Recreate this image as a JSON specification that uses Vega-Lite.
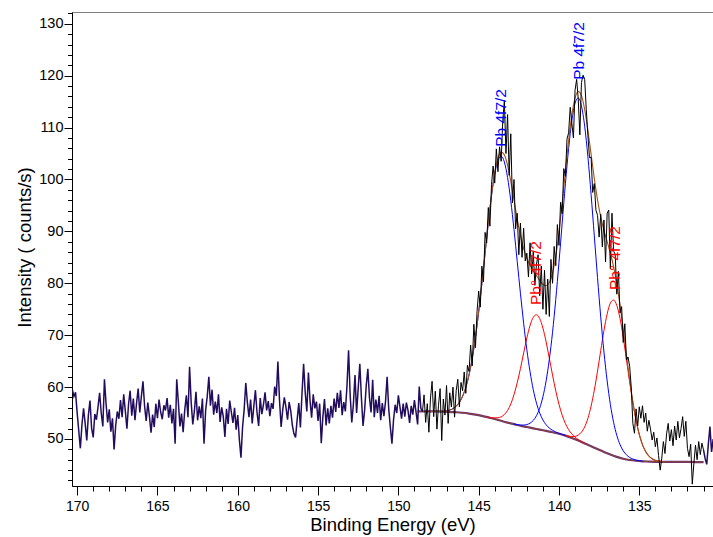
{
"$schema":"https://vega.github.io/schema/vega-lite/v6.json",
"width":641,"height":474,
"autosize":{"type":"none"},
"padding":{"left":72,"top":12,"right":0,"bottom":51},
"background":"white",
"config":{"view":{"stroke":"#808080","strokeWidth":1},"font":"Liberation Sans"},
"datasets":{
"fit":[
{"e":148.8,"v":55.3,"s":"bg"},{"e":148.4,"v":55.3,"s":"bg"},{"e":148.0,"v":55.3,"s":"bg"},{"e":147.6,"v":55.3,"s":"bg"},{"e":147.2,"v":55.25,"s":"bg"},{"e":146.8,"v":55.2,"s":"bg"},{"e":146.4,"v":55.15,"s":"bg"},{"e":146.0,"v":55.05,"s":"bg"},{"e":145.6,"v":54.9,"s":"bg"},{"e":145.2,"v":54.7,"s":"bg"},{"e":144.8,"v":54.45,"s":"bg"},{"e":144.4,"v":54.15,"s":"bg"},{"e":144.0,"v":53.85,"s":"bg"},{"e":143.6,"v":53.5,"s":"bg"},{"e":143.2,"v":53.15,"s":"bg"},{"e":142.8,"v":52.85,"s":"bg"},{"e":142.4,"v":52.55,"s":"bg"},{"e":142.0,"v":52.3,"s":"bg"},{"e":141.6,"v":52.05,"s":"bg"},{"e":141.2,"v":51.8,"s":"bg"},{"e":140.8,"v":51.55,"s":"bg"},{"e":140.4,"v":51.3,"s":"bg"},{"e":140.0,"v":51.0,"s":"bg"},{"e":139.6,"v":50.65,"s":"bg"},{"e":139.2,"v":50.2,"s":"bg"},{"e":138.8,"v":49.7,"s":"bg"},{"e":138.4,"v":49.15,"s":"bg"},{"e":138.0,"v":48.6,"s":"bg"},{"e":137.6,"v":48.05,"s":"bg"},{"e":137.2,"v":47.5,"s":"bg"},{"e":136.8,"v":47.0,"s":"bg"},{"e":136.4,"v":46.55,"s":"bg"},{"e":136.0,"v":46.2,"s":"bg"},{"e":135.6,"v":45.95,"s":"bg"},{"e":135.2,"v":45.8,"s":"bg"},{"e":134.8,"v":45.7,"s":"bg"},{"e":134.4,"v":45.65,"s":"bg"},{"e":134.0,"v":45.6,"s":"bg"},{"e":133.0,"v":45.6,"s":"bg"},{"e":132.0,"v":45.57,"s":"bg"},{"e":131.0,"v":45.55,"s":"bg"},
{"e":147.6,"v":55.32,"s":"b1"},{"e":147.4,"v":55.33,"s":"b1"},{"e":147.2,"v":55.35,"s":"b1"},{"e":147.0,"v":55.42,"s":"b1"},{"e":146.8,"v":55.57,"s":"b1"},{"e":146.6,"v":55.85,"s":"b1"},{"e":146.4,"v":56.33,"s":"b1"},{"e":146.2,"v":57.08,"s":"b1"},{"e":146.0,"v":58.25,"s":"b1"},{"e":145.8,"v":59.96,"s":"b1"},{"e":145.6,"v":62.35,"s":"b1"},{"e":145.4,"v":65.56,"s":"b1"},{"e":145.2,"v":69.59,"s":"b1"},{"e":145.0,"v":74.47,"s":"b1"},{"e":144.8,"v":79.98,"s":"b1"},{"e":144.6,"v":85.82,"s":"b1"},{"e":144.4,"v":91.64,"s":"b1"},{"e":144.2,"v":96.89,"s":"b1"},{"e":144.0,"v":101.08,"s":"b1"},{"e":143.8,"v":103.71,"s":"b1"},{"e":143.6,"v":104.5,"s":"b1"},{"e":143.4,"v":103.36,"s":"b1"},{"e":143.2,"v":100.38,"s":"b1"},{"e":143.0,"v":95.89,"s":"b1"},{"e":142.8,"v":90.34,"s":"b1"},{"e":142.6,"v":84.22,"s":"b1"},{"e":142.4,"v":78.08,"s":"b1"},{"e":142.2,"v":72.32,"s":"b1"},{"e":142.0,"v":67.19,"s":"b1"},{"e":141.8,"v":62.94,"s":"b1"},{"e":141.6,"v":59.5,"s":"b1"},{"e":141.4,"v":56.91,"s":"b1"},{"e":141.2,"v":55.0,"s":"b1"},{"e":141.0,"v":53.66,"s":"b1"},{"e":140.8,"v":52.73,"s":"b1"},{"e":140.6,"v":52.1,"s":"b1"},{"e":140.4,"v":51.67,"s":"b1"},{"e":140.2,"v":51.35,"s":"b1"},{"e":140.0,"v":51.1,"s":"b1"},{"e":139.8,"v":50.88,"s":"b1"},{"e":139.6,"v":50.67,"s":"b1"},
{"e":144.4,"v":54.19,"s":"r1"},{"e":144.2,"v":54.1,"s":"r1"},{"e":144.0,"v":54.05,"s":"r1"},{"e":143.8,"v":54.09,"s":"r1"},{"e":143.6,"v":54.27,"s":"r1"},{"e":143.4,"v":54.71,"s":"r1"},{"e":143.2,"v":55.48,"s":"r1"},{"e":143.0,"v":56.74,"s":"r1"},{"e":142.8,"v":58.53,"s":"r1"},{"e":142.6,"v":60.82,"s":"r1"},{"e":142.4,"v":63.56,"s":"r1"},{"e":142.2,"v":66.55,"s":"r1"},{"e":142.0,"v":69.46,"s":"r1"},{"e":141.8,"v":71.87,"s":"r1"},{"e":141.6,"v":73.46,"s":"r1"},{"e":141.4,"v":73.93,"s":"r1"},{"e":141.2,"v":73.21,"s":"r1"},{"e":141.0,"v":71.37,"s":"r1"},{"e":140.8,"v":68.71,"s":"r1"},{"e":140.6,"v":65.55,"s":"r1"},{"e":140.4,"v":62.31,"s":"r1"},{"e":140.2,"v":59.27,"s":"r1"},{"e":140.0,"v":56.68,"s":"r1"},{"e":139.8,"v":54.57,"s":"r1"},{"e":139.6,"v":52.98,"s":"r1"},{"e":139.4,"v":51.81,"s":"r1"},{"e":139.2,"v":50.97,"s":"r1"},{"e":139.0,"v":50.36,"s":"r1"},{"e":138.8,"v":49.9,"s":"r1"},{"e":138.6,"v":49.53,"s":"r1"},{"e":138.4,"v":49.19,"s":"r1"},
{"e":142.8,"v":52.88,"s":"b2"},{"e":142.6,"v":52.76,"s":"b2"},{"e":142.4,"v":52.68,"s":"b2"},{"e":142.2,"v":52.68,"s":"b2"},{"e":142.0,"v":52.78,"s":"b2"},{"e":141.8,"v":53.05,"s":"b2"},{"e":141.6,"v":53.57,"s":"b2"},{"e":141.4,"v":54.49,"s":"b2"},{"e":141.2,"v":55.94,"s":"b2"},{"e":141.0,"v":58.13,"s":"b2"},{"e":140.8,"v":61.19,"s":"b2"},{"e":140.6,"v":65.36,"s":"b2"},{"e":140.4,"v":70.57,"s":"b2"},{"e":140.2,"v":76.89,"s":"b2"},{"e":140.0,"v":84.03,"s":"b2"},{"e":139.8,"v":91.62,"s":"b2"},{"e":139.6,"v":99.16,"s":"b2"},{"e":139.4,"v":105.94,"s":"b2"},{"e":139.2,"v":111.32,"s":"b2"},{"e":139.0,"v":114.7,"s":"b2"},{"e":138.8,"v":115.7,"s":"b2"},{"e":138.6,"v":114.18,"s":"b2"},{"e":138.4,"v":110.27,"s":"b2"},{"e":138.2,"v":104.39,"s":"b2"},{"e":138.0,"v":97.11,"s":"b2"},{"e":137.8,"v":89.12,"s":"b2"},{"e":137.6,"v":81.08,"s":"b2"},{"e":137.4,"v":73.52,"s":"b2"},{"e":137.2,"v":66.77,"s":"b2"},{"e":137.0,"v":61.18,"s":"b2"},{"e":136.8,"v":56.64,"s":"b2"},{"e":136.6,"v":53.23,"s":"b2"},{"e":136.4,"v":50.69,"s":"b2"},{"e":136.2,"v":48.94,"s":"b2"},{"e":136.0,"v":47.72,"s":"b2"},{"e":135.8,"v":46.95,"s":"b2"},{"e":135.6,"v":46.43,"s":"b2"},{"e":135.4,"v":46.13,"s":"b2"},{"e":135.2,"v":45.93,"s":"b2"},{"e":135.0,"v":45.81,"s":"b2"},{"e":134.8,"v":45.73,"s":"b2"},
{"e":139.6,"v":50.71,"s":"r2"},{"e":139.4,"v":50.56,"s":"r2"},{"e":139.2,"v":50.48,"s":"r2"},{"e":139.0,"v":50.51,"s":"r2"},{"e":138.8,"v":50.75,"s":"r2"},{"e":138.6,"v":51.31,"s":"r2"},{"e":138.4,"v":52.33,"s":"r2"},{"e":138.2,"v":53.98,"s":"r2"},{"e":138.0,"v":56.34,"s":"r2"},{"e":137.8,"v":59.4,"s":"r2"},{"e":137.6,"v":63.07,"s":"r2"},{"e":137.4,"v":67.04,"s":"r2"},{"e":137.2,"v":70.9,"s":"r2"},{"e":137.0,"v":74.1,"s":"r2"},{"e":136.8,"v":76.19,"s":"r2"},{"e":136.6,"v":76.78,"s":"r2"},{"e":136.4,"v":75.74,"s":"r2"},{"e":136.2,"v":73.23,"s":"r2"},{"e":136.0,"v":69.6,"s":"r2"},{"e":135.8,"v":65.34,"s":"r2"},{"e":135.6,"v":60.97,"s":"r2"},{"e":135.4,"v":56.95,"s":"r2"},{"e":135.2,"v":53.54,"s":"r2"},{"e":135.0,"v":50.85,"s":"r2"},{"e":134.8,"v":48.88,"s":"r2"},{"e":134.6,"v":47.56,"s":"r2"},{"e":134.4,"v":46.7,"s":"r2"},{"e":134.2,"v":46.19,"s":"r2"},{"e":134.0,"v":45.88,"s":"r2"},{"e":133.8,"v":45.73,"s":"r2"},{"e":133.6,"v":45.66,"s":"r2"},
{"e":148.0,"v":55.3,"s":"env"},{"e":147.8,"v":55.31,"s":"env"},{"e":147.6,"v":55.32,"s":"env"},{"e":147.4,"v":55.33,"s":"env"},{"e":147.2,"v":55.35,"s":"env"},{"e":147.0,"v":55.42,"s":"env"},{"e":146.8,"v":55.57,"s":"env"},{"e":146.6,"v":55.85,"s":"env"},{"e":146.4,"v":56.33,"s":"env"},{"e":146.2,"v":57.08,"s":"env"},{"e":146.0,"v":58.25,"s":"env"},{"e":145.8,"v":59.96,"s":"env"},{"e":145.6,"v":62.35,"s":"env"},{"e":145.4,"v":65.56,"s":"env"},{"e":145.2,"v":69.59,"s":"env"},{"e":145.0,"v":74.47,"s":"env"},{"e":144.8,"v":79.98,"s":"env"},{"e":144.6,"v":85.82,"s":"env"},{"e":144.4,"v":91.68,"s":"env"},{"e":144.2,"v":96.99,"s":"env"},{"e":144.0,"v":101.28,"s":"env"},{"e":143.8,"v":104.12,"s":"env"},{"e":143.6,"v":105.27,"s":"env"},{"e":143.4,"v":104.74,"s":"env"},{"e":143.2,"v":102.71,"s":"env"},{"e":143.0,"v":99.63,"s":"env"},{"e":142.8,"v":96.05,"s":"env"},{"e":142.6,"v":92.4,"s":"env"},{"e":142.4,"v":89.22,"s":"env"},{"e":142.2,"v":86.69,"s":"env"},{"e":142.0,"v":84.83,"s":"env"},{"e":141.8,"v":83.5,"s":"env"},{"e":141.6,"v":82.43,"s":"env"},{"e":141.4,"v":81.47,"s":"env"},{"e":141.2,"v":80.55,"s":"env"},{"e":141.0,"v":79.8,"s":"env"},{"e":140.8,"v":79.53,"s":"env"},{"e":140.6,"v":80.15,"s":"env"},{"e":140.4,"v":81.95,"s":"env"},{"e":140.2,"v":85.21,"s":"env"},{"e":140.0,"v":89.81,"s":"env"},{"e":139.8,"v":95.41,"s":"env"},{"e":139.6,"v":101.57,"s":"env"},{"e":139.4,"v":107.45,"s":"env"},{"e":139.2,"v":112.37,"s":"env"},{"e":139.0,"v":115.67,"s":"env"},{"e":138.8,"v":116.95,"s":"env"},{"e":138.6,"v":116.16,"s":"env"},{"e":138.4,"v":113.49,"s":"env"},{"e":138.2,"v":109.49,"s":"env"},{"e":138.0,"v":104.85,"s":"env"},{"e":137.8,"v":100.19,"s":"env"},{"e":137.6,"v":96.1,"s":"env"},{"e":137.4,"v":92.78,"s":"env"},{"e":137.2,"v":90.17,"s":"env"},{"e":137.0,"v":88.03,"s":"env"},{"e":136.8,"v":85.83,"s":"env"},{"e":136.6,"v":83.23,"s":"env"},{"e":136.4,"v":79.88,"s":"env"},{"e":136.2,"v":75.79,"s":"env"},{"e":136.0,"v":71.12,"s":"env"},{"e":135.8,"v":66.21,"s":"env"},{"e":135.6,"v":61.45,"s":"env"},{"e":135.4,"v":57.2,"s":"env"},{"e":135.2,"v":53.67,"s":"env"},{"e":135.0,"v":50.91,"s":"env"},{"e":134.8,"v":48.91,"s":"env"},{"e":134.6,"v":47.56,"s":"env"},{"e":134.4,"v":46.7,"s":"env"},{"e":134.2,"v":46.19,"s":"env"},{"e":134.0,"v":45.88,"s":"env"},{"e":133.8,"v":45.73,"s":"env"},{"e":133.6,"v":45.66,"s":"env"},{"e":133.4,"v":45.6,"s":"env"}
],
"raw":[
{"e":170.3,"v":59.5,"s":"a"},{"e":170.2,"v":58.2,"s":"a"},{"e":170.1,"v":59.0,"s":"a"},{"e":170.0,"v":55.1,"s":"a"},{"e":169.9,"v":51.6,"s":"a"},{"e":169.8,"v":48.2,"s":"a"},{"e":169.7,"v":52.8,"s":"a"},{"e":169.6,"v":55.9,"s":"a"},{"e":169.5,"v":53.0,"s":"a"},{"e":169.4,"v":49.7,"s":"a"},
{"e":169.3,"v":54.6,"s":"a"},{"e":169.2,"v":57.4,"s":"a"},{"e":169.1,"v":52.1,"s":"a"},{"e":169.0,"v":50.3,"s":"a"},{"e":168.9,"v":54.8,"s":"a"},{"e":168.8,"v":53.7,"s":"a"},{"e":168.7,"v":56.2,"s":"a"},{"e":168.6,"v":58.9,"s":"a"},{"e":168.5,"v":55.0,"s":"a"},{"e":168.4,"v":52.4,"s":"a"},
{"e":168.3,"v":61.5,"s":"a"},{"e":168.2,"v":56.8,"s":"a"},{"e":168.1,"v":53.2,"s":"a"},{"e":168.0,"v":55.7,"s":"a"},{"e":167.9,"v":51.4,"s":"a"},{"e":167.8,"v":54.0,"s":"a"},{"e":167.7,"v":48.0,"s":"a"},{"e":167.6,"v":52.6,"s":"a"},{"e":167.5,"v":55.3,"s":"a"},{"e":167.4,"v":53.9,"s":"a"},
{"e":167.3,"v":57.5,"s":"a"},{"e":167.2,"v":54.2,"s":"a"},{"e":167.1,"v":58.6,"s":"a"},{"e":167.0,"v":55.4,"s":"a"},{"e":166.9,"v":52.0,"s":"a"},{"e":166.8,"v":56.7,"s":"a"},{"e":166.7,"v":59.3,"s":"a"},{"e":166.6,"v":54.5,"s":"a"},{"e":166.5,"v":57.8,"s":"a"},{"e":166.4,"v":53.6,"s":"a"},
{"e":166.3,"v":56.9,"s":"a"},{"e":166.2,"v":59.7,"s":"a"},{"e":166.1,"v":55.1,"s":"a"},{"e":166.0,"v":58.2,"s":"a"},{"e":165.9,"v":61.1,"s":"a"},{"e":165.8,"v":56.3,"s":"a"},{"e":165.7,"v":53.5,"s":"a"},{"e":165.6,"v":57.0,"s":"a"},{"e":165.5,"v":54.4,"s":"a"},{"e":165.4,"v":51.2,"s":"a"},
{"e":165.3,"v":54.7,"s":"a"},{"e":165.2,"v":52.3,"s":"a"},{"e":165.1,"v":56.8,"s":"a"},{"e":165.0,"v":54.0,"s":"a"},{"e":164.9,"v":57.6,"s":"a"},{"e":164.8,"v":55.2,"s":"a"},{"e":164.7,"v":53.8,"s":"a"},{"e":164.6,"v":56.5,"s":"a"},{"e":164.5,"v":55.5,"s":"a"},{"e":164.4,"v":57.9,"s":"a"},
{"e":164.3,"v":54.1,"s":"a"},{"e":164.2,"v":56.6,"s":"a"},{"e":164.1,"v":53.0,"s":"a"},{"e":164.0,"v":55.8,"s":"a"},{"e":163.9,"v":49.1,"s":"a"},{"e":163.8,"v":61.5,"s":"a"},{"e":163.7,"v":57.2,"s":"a"},{"e":163.6,"v":52.4,"s":"a"},{"e":163.5,"v":54.9,"s":"a"},{"e":163.4,"v":51.3,"s":"a"},
{"e":163.3,"v":55.6,"s":"a"},{"e":163.2,"v":58.4,"s":"a"},{"e":163.1,"v":54.2,"s":"a"},{"e":163.0,"v":63.9,"s":"a"},{"e":162.9,"v":57.1,"s":"a"},{"e":162.8,"v":52.8,"s":"a"},{"e":162.7,"v":55.4,"s":"a"},{"e":162.6,"v":59.1,"s":"a"},{"e":162.5,"v":53.6,"s":"a"},{"e":162.4,"v":56.3,"s":"a"},
{"e":162.3,"v":54.0,"s":"a"},{"e":162.2,"v":57.8,"s":"a"},{"e":162.1,"v":49.1,"s":"a"},{"e":162.0,"v":55.5,"s":"a"},{"e":161.9,"v":58.2,"s":"a"},{"e":161.8,"v":62.0,"s":"a"},{"e":161.7,"v":56.4,"s":"a"},{"e":161.6,"v":59.5,"s":"a"},{"e":161.5,"v":54.7,"s":"a"},{"e":161.4,"v":57.2,"s":"a"},
{"e":161.3,"v":55.0,"s":"a"},{"e":161.2,"v":58.6,"s":"a"},{"e":161.1,"v":53.3,"s":"a"},{"e":161.0,"v":56.1,"s":"a"},{"e":160.9,"v":54.3,"s":"a"},{"e":160.8,"v":50.4,"s":"a"},{"e":160.7,"v":55.8,"s":"a"},{"e":160.6,"v":52.9,"s":"a"},{"e":160.5,"v":57.4,"s":"a"},{"e":160.4,"v":55.2,"s":"a"},
{"e":160.3,"v":53.1,"s":"a"},{"e":160.2,"v":56.0,"s":"a"},{"e":160.1,"v":51.8,"s":"a"},{"e":160.0,"v":54.6,"s":"a"},{"e":159.9,"v":49.9,"s":"a"},{"e":159.8,"v":46.4,"s":"a"},{"e":159.7,"v":52.3,"s":"a"},{"e":159.6,"v":55.7,"s":"a"},{"e":159.5,"v":60.8,"s":"a"},{"e":159.4,"v":57.0,"s":"a"},
{"e":159.3,"v":54.2,"s":"a"},{"e":159.2,"v":57.6,"s":"a"},{"e":159.1,"v":53.0,"s":"a"},{"e":159.0,"v":56.3,"s":"a"},{"e":158.9,"v":59.4,"s":"a"},{"e":158.8,"v":55.1,"s":"a"},{"e":158.7,"v":52.5,"s":"a"},{"e":158.6,"v":57.9,"s":"a"},{"e":158.5,"v":54.8,"s":"a"},{"e":158.4,"v":56.6,"s":"a"},
{"e":158.3,"v":59.0,"s":"a"},{"e":158.2,"v":55.5,"s":"a"},{"e":158.1,"v":57.3,"s":"a"},{"e":158.0,"v":54.4,"s":"a"},{"e":157.9,"v":56.9,"s":"a"},{"e":157.8,"v":55.8,"s":"a"},{"e":157.7,"v":60.1,"s":"a"},{"e":157.6,"v":58.3,"s":"a"},{"e":157.5,"v":64.9,"s":"a"},{"e":157.4,"v":57.5,"s":"a"},
{"e":157.3,"v":52.3,"s":"a"},{"e":157.2,"v":55.6,"s":"a"},{"e":157.1,"v":58.0,"s":"a"},{"e":157.0,"v":56.2,"s":"a"},{"e":156.9,"v":53.7,"s":"a"},{"e":156.8,"v":57.1,"s":"a"},{"e":156.7,"v":55.4,"s":"a"},{"e":156.6,"v":52.6,"s":"a"},{"e":156.5,"v":51.0,"s":"a"},{"e":156.4,"v":50.3,"s":"a"},
{"e":156.3,"v":53.8,"s":"a"},{"e":156.2,"v":56.9,"s":"a"},{"e":156.1,"v":52.2,"s":"a"},{"e":156.0,"v":58.7,"s":"a"},{"e":155.9,"v":64.5,"s":"a"},{"e":155.8,"v":59.0,"s":"a"},{"e":155.7,"v":55.3,"s":"a"},{"e":155.6,"v":62.8,"s":"a"},{"e":155.5,"v":57.4,"s":"a"},{"e":155.4,"v":54.1,"s":"a"},
{"e":155.3,"v":58.6,"s":"a"},{"e":155.2,"v":55.9,"s":"a"},{"e":155.1,"v":57.2,"s":"a"},{"e":155.0,"v":53.5,"s":"a"},{"e":154.9,"v":56.8,"s":"a"},{"e":154.8,"v":49.2,"s":"a"},{"e":154.7,"v":54.3,"s":"a"},{"e":154.6,"v":57.7,"s":"a"},{"e":154.5,"v":52.6,"s":"a"},{"e":154.4,"v":55.9,"s":"a"},
{"e":154.3,"v":53.0,"s":"a"},{"e":154.2,"v":56.4,"s":"a"},{"e":154.1,"v":54.1,"s":"a"},{"e":154.0,"v":57.8,"s":"a"},{"e":153.9,"v":55.2,"s":"a"},{"e":153.8,"v":58.9,"s":"a"},{"e":153.7,"v":56.0,"s":"a"},{"e":153.6,"v":59.4,"s":"a"},{"e":153.5,"v":54.6,"s":"a"},{"e":153.4,"v":57.1,"s":"a"},
{"e":153.3,"v":55.3,"s":"a"},{"e":153.2,"v":60.2,"s":"a"},{"e":153.1,"v":67.1,"s":"a"},{"e":153.0,"v":58.4,"s":"a"},{"e":152.9,"v":53.2,"s":"a"},{"e":152.8,"v":56.7,"s":"a"},{"e":152.7,"v":62.3,"s":"a"},{"e":152.6,"v":55.0,"s":"a"},{"e":152.5,"v":59.8,"s":"a"},{"e":152.4,"v":64.5,"s":"a"},
{"e":152.3,"v":57.9,"s":"a"},{"e":152.2,"v":52.5,"s":"a"},{"e":152.1,"v":55.6,"s":"a"},{"e":152.0,"v":60.3,"s":"a"},{"e":151.9,"v":63.5,"s":"a"},{"e":151.8,"v":58.0,"s":"a"},{"e":151.7,"v":55.1,"s":"a"},{"e":151.6,"v":61.4,"s":"a"},{"e":151.5,"v":54.2,"s":"a"},{"e":151.4,"v":57.6,"s":"a"},
{"e":151.3,"v":55.0,"s":"a"},{"e":151.2,"v":58.3,"s":"a"},{"e":151.1,"v":53.6,"s":"a"},{"e":151.0,"v":56.9,"s":"a"},{"e":150.9,"v":54.4,"s":"a"},{"e":150.8,"v":57.2,"s":"a"},{"e":150.7,"v":62.0,"s":"a"},{"e":150.6,"v":55.8,"s":"a"},{"e":150.5,"v":52.3,"s":"a"},{"e":150.4,"v":49.1,"s":"a"},
{"e":150.3,"v":53.7,"s":"a"},{"e":150.2,"v":56.6,"s":"a"},{"e":150.1,"v":55.0,"s":"a"},{"e":150.0,"v":58.4,"s":"a"},{"e":149.9,"v":56.2,"s":"a"},{"e":149.8,"v":53.9,"s":"a"},{"e":149.7,"v":56.8,"s":"a"},{"e":149.6,"v":54.3,"s":"a"},{"e":149.5,"v":57.0,"s":"a"},{"e":149.4,"v":55.5,"s":"a"},
{"e":149.3,"v":53.1,"s":"a"},{"e":149.2,"v":56.4,"s":"a"},{"e":149.1,"v":54.7,"s":"a"},{"e":149.0,"v":57.5,"s":"a"},{"e":148.9,"v":55.2,"s":"a"},{"e":148.8,"v":52.8,"s":"a"},{"e":148.7,"v":60.1,"s":"a"},{"e":148.6,"v":55.9,"s":"a"},{"e":148.5,"v":55.3,"s":"a"},
{"e":148.5,"v":55.3,"s":"b"},{"e":148.4,"v":58.5,"s":"b"},{"e":148.3,"v":53.2,"s":"b"},{"e":148.2,"v":56.8,"s":"b"},{"e":148.1,"v":51.3,"s":"b"},{"e":148.0,"v":57.9,"s":"b"},{"e":147.9,"v":61.1,"s":"b"},{"e":147.8,"v":54.3,"s":"b"},{"e":147.7,"v":59.2,"s":"b"},{"e":147.6,"v":51.9,"s":"b"},{"e":147.5,"v":56.5,"s":"b"},{"e":147.4,"v":59.7,"s":"b"},{"e":147.3,"v":49.7,"s":"b"},{"e":147.2,"v":57.7,"s":"b"},{"e":147.1,"v":54.6,"s":"b"},{"e":147.0,"v":60.3,"s":"b"},{"e":146.9,"v":53.0,"s":"b"},{"e":146.8,"v":58.9,"s":"b"},{"e":146.7,"v":56.2,"s":"b"},{"e":146.6,"v":60.0,"s":"b"},{"e":146.5,"v":54.2,"s":"b"},{"e":146.4,"v":59.3,"s":"b"},{"e":146.3,"v":61.5,"s":"b"},{"e":146.2,"v":56.2,"s":"b"},{"e":146.1,"v":60.9,"s":"b"},{"e":146.0,"v":59.3,"s":"b"},{"e":145.9,"v":62.9,"s":"b"},{"e":145.8,"v":58.8,"s":"b"},{"e":145.7,"v":64.2,"s":"b"},{"e":145.6,"v":63.0,"s":"b"},{"e":145.5,"v":68.1,"s":"b"},{"e":145.4,"v":64.1,"s":"b"},{"e":145.3,"v":72.1,"s":"b"},{"e":145.2,"v":67.6,"s":"b"},{"e":145.1,"v":74.6,"s":"b"},{"e":145.0,"v":78.5,"s":"b"},{"e":144.9,"v":75.4,"s":"b"},{"e":144.8,"v":83.3,"s":"b"},{"e":144.7,"v":80.3,"s":"b"},{"e":144.6,"v":89.8,"s":"b"},{"e":144.5,"v":87.8,"s":"b"},{"e":144.4,"v":94.6,"s":"b"},{"e":144.3,"v":91.0,"s":"b"},{"e":144.2,"v":99.0,"s":"b"},{"e":144.1,"v":102.6,"s":"b"},{"e":144.0,"v":99.3,"s":"b"},{"e":143.9,"v":105.9,"s":"b"},{"e":143.8,"v":101.5,"s":"b"},{"e":143.7,"v":106.3,"s":"b"},{"e":143.6,"v":103.5,"s":"b"},{"e":143.5,"v":111.3,"s":"b"},{"e":143.4,"v":115.2,"s":"b"},{"e":143.3,"v":105.0,"s":"b"},{"e":143.2,"v":112.5,"s":"b"},{"e":143.1,"v":100.8,"s":"b"},{"e":143.0,"v":108.8,"s":"b"},{"e":142.9,"v":95.5,"s":"b"},{"e":142.8,"v":100.0,"s":"b"},{"e":142.7,"v":90.5,"s":"b"},{"e":142.6,"v":93.5,"s":"b"},{"e":142.5,"v":85.5,"s":"b"},{"e":142.4,"v":91.6,"s":"b"},{"e":142.3,"v":85.0,"s":"b"},{"e":142.2,"v":90.6,"s":"b"},{"e":142.1,"v":84.3,"s":"b"},{"e":142.0,"v":85.8,"s":"b"},{"e":141.9,"v":81.2,"s":"b"},{"e":141.8,"v":87.8,"s":"b"},{"e":141.7,"v":81.8,"s":"b"},{"e":141.6,"v":86.0,"s":"b"},{"e":141.5,"v":79.6,"s":"b"},{"e":141.4,"v":83.7,"s":"b"},{"e":141.3,"v":85.5,"s":"b"},{"e":141.2,"v":77.6,"s":"b"},{"e":141.1,"v":83.3,"s":"b"},{"e":141.0,"v":75.0,"s":"b"},{"e":140.9,"v":82.5,"s":"b"},{"e":140.8,"v":74.0,"s":"b"},{"e":140.7,"v":80.8,"s":"b"},{"e":140.6,"v":73.6,"s":"b"},{"e":140.5,"v":84.6,"s":"b"},{"e":140.4,"v":80.0,"s":"b"},{"e":140.3,"v":87.1,"s":"b"},{"e":140.2,"v":83.4,"s":"b"},{"e":140.1,"v":91.3,"s":"b"},{"e":140.0,"v":87.3,"s":"b"},{"e":139.9,"v":95.6,"s":"b"},{"e":139.8,"v":93.4,"s":"b"},{"e":139.7,"v":102.1,"s":"b"},{"e":139.6,"v":100.6,"s":"b"},{"e":139.5,"v":107.8,"s":"b"},{"e":139.4,"v":109.0,"s":"b"},{"e":139.3,"v":113.9,"s":"b"},{"e":139.2,"v":110.9,"s":"b"},{"e":139.1,"v":108.0,"s":"b"},{"e":139.0,"v":117.2,"s":"b"},{"e":138.9,"v":119.3,"s":"b"},{"e":138.8,"v":115.5,"s":"b"},{"e":138.7,"v":108.6,"s":"b"},{"e":138.6,"v":118.7,"s":"b"},{"e":138.5,"v":120.1,"s":"b"},{"e":138.4,"v":119.3,"s":"b"},{"e":138.3,"v":113.5,"s":"b"},{"e":138.2,"v":108.5,"s":"b"},{"e":138.1,"v":104.2,"s":"b"},{"e":138.0,"v":104.3,"s":"b"},{"e":137.9,"v":97.5,"s":"b"},{"e":137.8,"v":99.2,"s":"b"},{"e":137.7,"v":94.1,"s":"b"},{"e":137.6,"v":93.1,"s":"b"},{"e":137.5,"v":88.9,"s":"b"},{"e":137.4,"v":93.3,"s":"b"},{"e":137.3,"v":87.0,"s":"b"},{"e":137.2,"v":92.2,"s":"b"},{"e":137.1,"v":84.1,"s":"b"},{"e":137.0,"v":93.5,"s":"b"},{"e":136.9,"v":94.1,"s":"b"},{"e":136.8,"v":82.8,"s":"b"},{"e":136.7,"v":93.5,"s":"b"},{"e":136.6,"v":86.2,"s":"b"},{"e":136.5,"v":85.6,"s":"b"},{"e":136.4,"v":77.9,"s":"b"},{"e":136.3,"v":82.3,"s":"b"},{"e":136.2,"v":74.3,"s":"b"},{"e":136.1,"v":75.5,"s":"b"},{"e":136.0,"v":68.6,"s":"b"},{"e":135.9,"v":72.2,"s":"b"},{"e":135.8,"v":65.2,"s":"b"},{"e":135.7,"v":65.8,"s":"b"},{"e":135.6,"v":64.0,"s":"b"},{"e":135.5,"v":60.0,"s":"b"},{"e":135.4,"v":53.0,"s":"b"},{"e":135.3,"v":51.1,"s":"b"},{"e":135.2,"v":55.8,"s":"b"},{"e":135.1,"v":52.5,"s":"b"},{"e":135.0,"v":56.2,"s":"b"},{"e":134.9,"v":54.0,"s":"b"},{"e":134.8,"v":56.4,"s":"b"},{"e":134.7,"v":53.2,"s":"b"},{"e":134.6,"v":55.0,"s":"b"},{"e":134.5,"v":51.5,"s":"b"},{"e":134.4,"v":53.6,"s":"b"},{"e":134.3,"v":51.9,"s":"b"},{"e":134.2,"v":49.8,"s":"b"},{"e":134.1,"v":51.3,"s":"b"},{"e":134.0,"v":48.5,"s":"b"},{"e":133.9,"v":50.2,"s":"b"},{"e":133.8,"v":46.8,"s":"b"},{"e":133.7,"v":44.0,"s":"b"},{"e":133.6,"v":46.3,"s":"b"},{"e":133.5,"v":49.5,"s":"b"},{"e":133.4,"v":47.2,"s":"b"},{"e":133.3,"v":51.0,"s":"b"},{"e":133.2,"v":53.0,"s":"b"},{"e":133.1,"v":49.6,"s":"b"},{"e":133.0,"v":51.8,"s":"b"},{"e":132.9,"v":48.7,"s":"b"},{"e":132.8,"v":52.5,"s":"b"},{"e":132.7,"v":49.8,"s":"b"},{"e":132.6,"v":53.4,"s":"b"},{"e":132.5,"v":50.2,"s":"b"},{"e":132.4,"v":52.0,"s":"b"},{"e":132.3,"v":54.3,"s":"b"},{"e":132.2,"v":50.5,"s":"b"},{"e":132.1,"v":53.4,"s":"b"},{"e":132.0,"v":48.2,"s":"b"},{"e":131.9,"v":46.6,"s":"b"},{"e":131.8,"v":49.0,"s":"b"},{"e":131.7,"v":41.3,"s":"b"},{"e":131.6,"v":45.3,"s":"b"},{"e":131.5,"v":48.8,"s":"b"},{"e":131.4,"v":46.0,"s":"b"},{"e":131.3,"v":49.5,"s":"b"},{"e":131.2,"v":47.0,"s":"b"},{"e":131.1,"v":49.2,"s":"b"},{"e":131.0,"v":47.9,"s":"b"},
{"e":131.0,"v":47.9,"s":"c"},{"e":130.9,"v":46.2,"s":"c"},{"e":130.8,"v":45.1,"s":"c"},{"e":130.7,"v":49.0,"s":"c"},{"e":130.6,"v":52.4,"s":"c"},{"e":130.5,"v":47.5,"s":"c"},{"e":130.4,"v":50.0,"s":"c"}
],
"lab":[
{"e":143.63,"v":106.3,"t":"Pb 4f7/2","c":"#0000ff"},
{"e":138.75,"v":119.2,"t":"Pb 4f7/2","c":"#0000ff"},
{"e":141.43,"v":75.8,"t":"Pb° 4f7/2","c":"#ff0000"},
{"e":136.5,"v":78.7,"t":"Pb° 4f7/2","c":"#ff0000"}
]
},
"encoding":{
"x":{"field":"e","type":"quantitative","scale":{"domain":[130.41,170.32],"reverse":true,"nice":false,"zero":false},
"axis":{"orient":"bottom","values":[131,132,133,134,135,136,137,138,139,140,141,142,143,144,145,146,147,148,149,150,151,152,153,154,155,156,157,158,159,160,161,162,163,164,165,166,167,168,169,170],"format":"d","labelExpr":"datum.value % 5 === 0 ? datum.label : ''","tickSize":{"condition":{"test":"datum.value % 5 === 0","value":9},"value":5},"grid":false,"domainColor":"#000000","tickColor":"#000000","labelColor":"#000000","labelFont":"Liberation Sans","labelFontSize":14,"labelPadding":4,"labelFlush":false,"labelOverlap":false,"title":"Binding Energy (eV)","titleFont":"Liberation Sans","titleFontSize":18.5,"titleFontWeight":"normal","titleColor":"#000000","titleY":38,"titleBaseline":"middle"}},
"y":{"field":"v","type":"quantitative","scale":{"domain":[40.94,132.27],"nice":false,"zero":false},
"axis":{"values":[42,44,46,48,50,52,54,56,58,60,62,64,66,68,70,72,74,76,78,80,82,84,86,88,90,92,94,96,98,100,102,104,106,108,110,112,114,116,118,120,122,124,126,128,130,132],"format":"d","labelExpr":"datum.value % 10 === 0 ? datum.label : ''","tickSize":{"condition":{"test":"datum.value % 10 === 0","value":8},"value":4.5},"grid":false,"domainColor":"#000000","tickColor":"#000000","labelColor":"#000000","labelFont":"Liberation Sans","labelFontSize":14.5,"labelPadding":1,"labelFlush":false,"labelOverlap":false,"title":"Intensity ( counts/s)","titleFont":"Liberation Sans","titleFontSize":18.5,"titleFontWeight":"normal","titleColor":"#000000","titleX":-48,"titleY":235,"titleBaseline":"middle"}}
},
"layer":[
{"data":{"name":"fit"},"transform":[{"filter":"datum.s==='bg'"}],"mark":{"type":"line","color":"#6a2c8e","strokeWidth":2.2,"interpolate":"monotone"}},
{"data":{"name":"fit"},"transform":[{"filter":"datum.s==='bg'"}],"mark":{"type":"line","color":"#8b4a1c","strokeWidth":1,"interpolate":"monotone"}},
{"data":{"name":"fit"},"transform":[{"filter":"datum.s==='r1'||datum.s==='r2'"}],"mark":{"type":"line","color":"#ff0000","strokeWidth":1,"interpolate":"monotone"},"encoding":{"detail":{"field":"s"}}},
{"data":{"name":"fit"},"transform":[{"filter":"datum.s==='b1'||datum.s==='b2'"}],"mark":{"type":"line","color":"#0000ff","strokeWidth":1,"interpolate":"monotone"},"encoding":{"detail":{"field":"s"}}},
{"data":{"name":"fit"},"transform":[{"filter":"datum.s==='env'"}],"mark":{"type":"line","color":"#a0521e","strokeWidth":1.1,"interpolate":"monotone"}},
{"data":{"name":"raw"},"transform":[{"filter":"datum.s==='b'"}],"mark":{"type":"line","color":"#000000","strokeWidth":1,"clip":true}},
{"data":{"name":"raw"},"transform":[{"filter":"datum.s!=='b'"}],"mark":{"type":"line","color":"#220c5e","strokeWidth":1.5,"clip":true},"encoding":{"detail":{"field":"s"}}},
{"data":{"name":"lab"},"mark":{"type":"text","angle":270,"align":"left","baseline":"middle","font":"Liberation Sans","fontSize":15.5},"encoding":{"text":{"field":"t"},"color":{"field":"c","type":"nominal","scale":null}}}
]
}
